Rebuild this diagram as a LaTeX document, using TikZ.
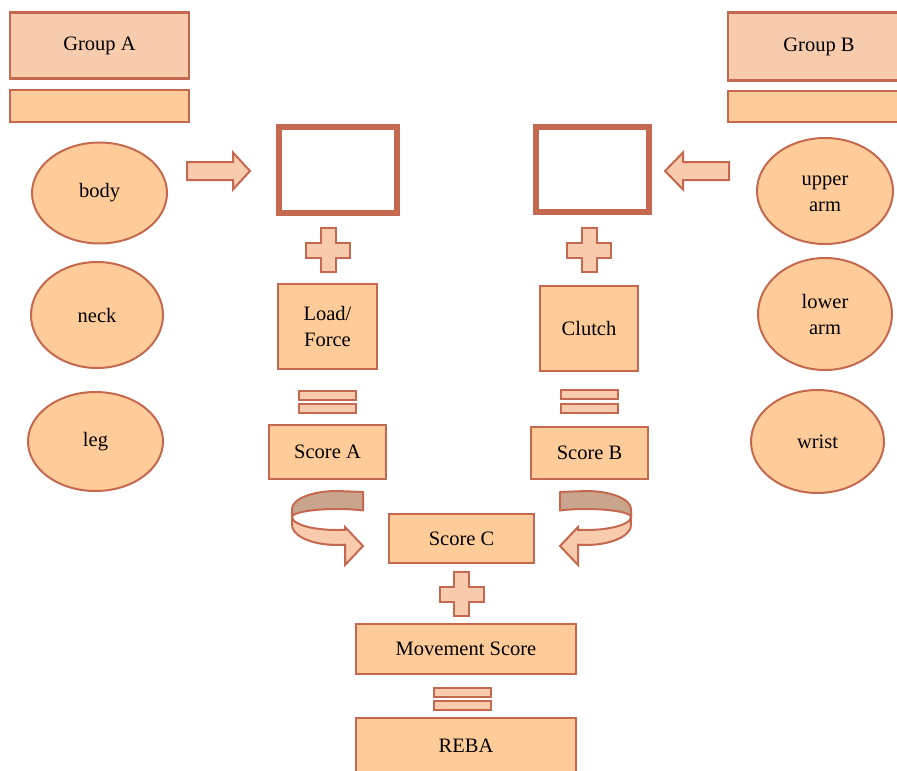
\documentclass[tikz,border=0pt]{standalone}
\usepackage{fontspec}
\setmainfont{Liberation Serif}
\usetikzlibrary{positioning,calc,shapes.geometric}
\definecolor{rebaLine}{HTML}{C4694F}
\definecolor{rebaPeach}{HTML}{F8CBAD}
\definecolor{rebaOrange}{HTML}{FFCC99}
\definecolor{rebaShade}{HTML}{C9A58D}

\tikzset{
  lbl/.style={font=\fontsize{20.5}{26}\selectfont, align=center, text=black},
  grpbox/.style={lbl, draw=rebaLine, line width=2.4pt, fill=rebaPeach, inner sep=0pt},
  barbox/.style={draw=rebaLine, line width=2.4pt, fill=rebaOrange, inner sep=0pt},
  partell/.style={lbl, ellipse, draw=rebaLine, line width=2pt, fill=rebaOrange, inner sep=0pt},
  scorebox/.style={lbl, draw=rebaLine, line width=2.4pt, fill=rebaOrange, inner sep=0pt},
  emptybox/.style={draw=rebaLine, line width=6pt, fill=white, inner sep=0pt},
  signshape/.style={draw=rebaLine, line width=2pt, fill=rebaPeach, line join=miter},
  uback/.style={draw=rebaLine, line width=2pt, fill=rebaShade, line join=round},
  ufront/.style={draw=rebaLine, line width=2pt, fill=rebaPeach, line join=miter}
}

% U-turn ribbon arrow (left one; right one is mirrored)
\newcommand{\uturnarrow}{%
  % back side of the ribbon
  \draw[uback] (363,492) -- (337,491)
    arc[start angle=-90, end angle=-180, x radius=45, y radius=18]
    -- (292,517)
    arc[start angle=-180, end angle=-54.7, x radius=45, y radius=8] -- cycle;
  % front side with head
  \draw[ufront] (292,517)
    arc[start angle=180, end angle=79.8, x radius=45, y radius=13]
    -- (345,527) -- (363,546) -- (345,565) -- (345,544.7)
    arc[start angle=79.8, end angle=180, x radius=45, y radius=20] -- cycle;
}

\begin{document}
\begin{tikzpicture}[x=1pt, y=-1pt]

\useasboundingbox (0,0) rectangle (897,771);
\clip (0,0) rectangle (897,771);

\def\ps{22}   % half size of plus sign
\def\pa{7.5}  % half thickness of plus arm

% --- GROUP HEADERS ---
\node[grpbox, minimum width=179pt, minimum height=66pt] (grpA) at (99.5,45.5) {Group A};
\node[barbox, minimum width=179pt, minimum height=32pt] (barA) at (99.5,106) {};
\node[grpbox, minimum width=182pt, minimum height=68pt] (grpB) at (819,46.5) {Group B};
\node[barbox, minimum width=182pt, minimum height=31pt] (barB) at (819,106.5) {};

% --- BODY PARTS ---
\foreach \nm/\ex/\ey/\ew/\eh/\txt in {
    body/99.5/193/135/101/body,
    neck/97/315/132/106/neck,
    leg/95.5/441.5/135/99/leg,
    uarm/825/191/136/106/{\vphantom{l}upper\\arm},
    larm/825/314/134/112/{lower\\arm},
    wrist/817.5/441.5/133/103/wrist} {
  \node[partell, minimum width=\ew pt, minimum height=\eh pt] (\nm) at (\ex,\ey) {\txt};
}

% --- INPUT ARROWS ---
\draw[signshape] (187,162) -- (233,162) -- (233,152.5) -- (250,171)
  -- (233,189.5) -- (233,180) -- (187,180) -- cycle;
\draw[signshape] (729,162) -- (683,162) -- (683,152.5) -- (665,171)
  -- (683,189.5) -- (683,180) -- (729,180) -- cycle;

% --- EMPTY SCORE BOXES ---
\node[emptybox, minimum width=118pt, minimum height=86pt] (boxA) at (338,170) {};
\node[emptybox, minimum width=113pt, minimum height=85pt] (boxB) at (592.5,169.5) {};

% --- PLUS SIGNS ---
\foreach \cx/\cy in {328/250, 589/250, 461.5/594} {
  \draw[signshape] (\cx-\pa,\cy-\ps) -- (\cx+\pa,\cy-\ps) -- (\cx+\pa,\cy-\pa)
    -- (\cx+\ps,\cy-\pa) -- (\cx+\ps,\cy+\pa) -- (\cx+\pa,\cy+\pa)
    -- (\cx+\pa,\cy+\ps) -- (\cx-\pa,\cy+\ps) -- (\cx-\pa,\cy+\pa)
    -- (\cx-\ps,\cy+\pa) -- (\cx-\ps,\cy-\pa) -- (\cx-\pa,\cy-\pa) -- cycle;
}

% --- SCORE BOXES ---
\node[scorebox, minimum width=99pt, minimum height=85pt] (load) at (327.5,326.5) {Load/\\Force};
\node[scorebox, minimum width=98pt, minimum height=85pt] (clutch) at (589,328.5) {Clutch};
\node[scorebox, minimum width=117pt, minimum height=54pt] (scoreA) at (327.5,452) {Score A};
\node[scorebox, minimum width=117pt, minimum height=52pt] (scoreB) at (589.5,453) {Score B};
\node[scorebox, minimum width=145pt, minimum height=49pt] (scoreC) at (461.5,538.5) {Score C};
\node[scorebox, minimum width=220pt, minimum height=50pt] (moveS) at (466,649) {Movement Score};
\node[scorebox, minimum width=220pt, minimum height=56pt] (reba) at (466,746) {REBA};

% --- EQUAL SIGNS ---
\foreach \cx/\cy in {327.5/395, 327.5/408.5, 589.5/394.5, 589.5/408.5, 462/692, 462/705.5} {
  \draw[signshape] (\cx-28.5,\cy-4.5) rectangle (\cx+28.5,\cy+4.5);
}

% --- U-TURN ARROWS ---
\uturnarrow
\begin{scope}[shift={(923,0)}, xscale=-1]
  \uturnarrow
\end{scope}

\end{tikzpicture}
\end{document}
